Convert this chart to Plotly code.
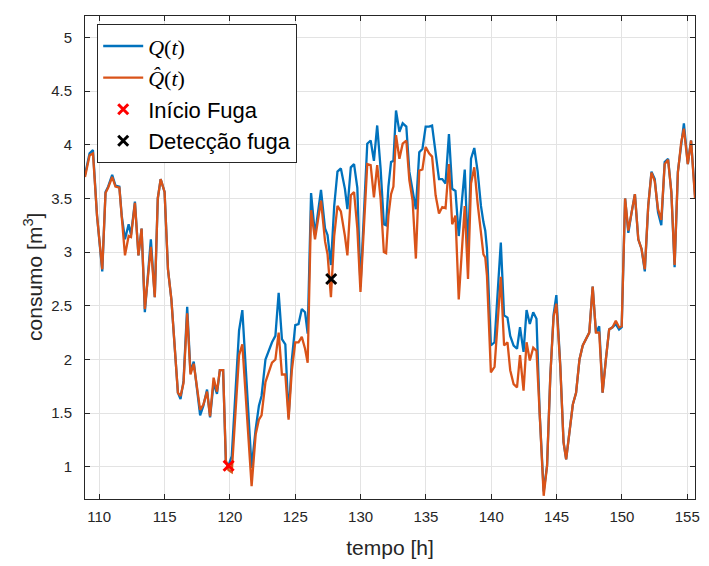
import plotly.graph_objects as go

# Time [h]
tempo = [
    108.91, 109.26, 109.52, 109.83, 110.23, 110.48, 110.68, 110.99, 111.24, 111.54,
    111.72, 111.97, 112.25, 112.43, 112.73, 113.00, 113.24, 113.49, 113.95, 114.25,
    114.48, 114.70, 115.00, 115.26, 115.52, 116.02, 116.22, 116.45, 116.73, 116.98,
    117.23, 117.41, 117.72, 117.97, 118.25, 118.48, 118.75, 119.01, 119.23, 119.48,
    119.69, 119.89, 120.14, 120.70, 120.95, 121.66, 121.97, 122.22, 122.42, 122.72,
    122.97, 123.22, 123.48, 123.73, 123.98, 124.24, 124.49, 124.74, 125.00, 125.25,
    125.50, 125.75, 125.95, 126.21, 126.51, 126.74, 126.97, 127.28, 127.47, 127.73,
    127.98, 128.23, 128.49, 128.80, 128.99, 129.25, 129.50, 129.75, 129.99, 130.51,
    130.77, 131.02, 131.27, 131.53, 131.78, 131.95, 132.13, 132.33, 132.51, 132.71,
    132.97, 133.22, 133.50, 133.73, 133.98, 134.23, 134.49, 134.73, 134.98, 135.24,
    135.47, 135.74, 136.00, 136.25, 136.50, 136.76, 137.01, 137.26, 137.51, 137.97,
    138.22, 138.45, 138.70, 138.96, 139.21, 139.40, 139.54, 139.67, 139.97, 140.25,
    140.73, 140.98, 141.24, 141.45, 141.71, 141.97, 142.20, 142.47, 142.70, 142.95,
    143.21, 143.46, 143.71, 144.01, 144.27, 144.52, 144.77, 144.98, 145.28, 145.53,
    145.73, 145.98, 146.24, 146.49, 146.75, 147.00, 147.25, 147.50, 147.76, 148.01,
    148.26, 148.52, 148.77, 149.02, 149.28, 149.53, 149.78, 149.98, 150.24, 150.49,
    150.74, 150.99, 151.25, 151.50, 151.75, 152.01, 152.26, 152.51, 152.76, 153.01,
    153.27, 153.53, 153.78, 154.03, 154.28, 154.53, 154.74, 155.04, 155.29, 155.59,
]

# Measured consumption Q(t) [m^3]
consumo_q = [
    3.72, 3.92, 3.95, 3.34, 2.82, 3.56, 3.61, 3.72, 3.62, 3.61,
    3.34, 3.12, 3.26, 3.16, 3.47, 2.97, 3.22, 2.44, 3.12, 2.58,
    3.50, 3.68, 3.56, 2.84, 2.56, 1.69, 1.63, 1.80, 2.49, 1.88,
    1.98, 1.79, 1.48, 1.57, 1.72, 1.46, 1.78, 1.68, 1.90, 1.90,
    1.04, 1.01, 1.10, 2.27, 2.46, 0.99, 1.35, 1.57, 1.66, 2.00,
    2.08, 2.16, 2.22, 2.62, 2.19, 2.14, 1.46, 2.00, 2.32, 2.33,
    2.47, 2.44, 2.24, 3.55, 3.16, 3.40, 3.58, 3.22, 3.16, 2.88,
    3.43, 3.75, 3.78, 3.59, 3.40, 3.79, 3.82, 3.60, 2.68, 4.01,
    4.04, 3.85, 4.18, 3.78, 3.26, 3.25, 3.61, 3.84, 3.85, 4.32,
    4.12, 4.20, 4.17, 3.75, 3.59, 3.40, 3.93, 3.96, 4.17, 4.17,
    4.18, 3.90, 3.68, 3.68, 3.64, 4.10, 3.59, 3.57, 3.15, 3.77,
    3.00, 3.87, 3.97, 3.75, 3.43, 3.28, 3.20, 3.03, 2.13, 2.16,
    3.09, 2.41, 2.39, 2.22, 2.13, 2.10, 2.30, 2.07, 2.46, 2.33,
    2.44, 2.38, 1.48, 0.77, 1.01, 1.85, 2.42, 2.60, 1.94, 1.23,
    1.07, 1.32, 1.58, 1.69, 2.00, 2.13, 2.19, 2.25, 2.68, 2.25,
    2.31, 1.69, 2.00, 2.28, 2.30, 2.33, 2.28, 2.30, 3.50, 3.18,
    3.37, 3.54, 3.12, 3.03, 2.82, 3.43, 3.75, 3.68, 3.37, 3.25,
    3.84, 3.87, 3.56, 2.86, 3.75, 4.03, 4.20, 3.82, 4.04, 3.53,
]

# Estimated consumption Q^(t) [m^3]
consumo_qhat = [
    3.70, 3.90, 3.92, 3.34, 2.84, 3.55, 3.60, 3.70, 3.61, 3.60,
    3.33, 2.97, 3.15, 3.14, 3.46, 2.97, 3.22, 2.47, 3.05, 2.58,
    3.50, 3.68, 3.56, 2.84, 2.56, 1.69, 1.66, 1.78, 2.43, 1.86,
    1.96, 1.79, 1.53, 1.58, 1.70, 1.47, 1.83, 1.70, 1.90, 1.90,
    1.06, 0.97, 0.95, 2.04, 2.14, 0.82, 1.30, 1.44, 1.48, 1.79,
    1.88, 1.97, 2.00, 2.25, 1.86, 1.86, 1.44, 1.90, 2.16, 2.16,
    2.21, 2.10, 1.97, 3.39, 3.12, 3.30, 3.48, 3.10, 2.98, 2.58,
    3.15, 3.43, 3.38, 3.15, 2.97, 3.53, 3.56, 3.22, 2.63, 3.82,
    3.81, 3.51, 3.81, 3.50, 3.00, 2.99, 3.34, 3.54, 3.61, 4.09,
    3.87, 4.01, 4.04, 3.67, 3.48, 2.94, 3.76, 3.77, 3.98, 3.92,
    3.89, 3.53, 3.36, 3.42, 3.41, 3.82, 3.26, 3.34, 2.56, 3.43,
    2.75, 3.64, 3.79, 3.45, 3.15, 2.98, 2.95, 2.78, 1.88, 1.93,
    2.77, 2.13, 2.16, 1.90, 1.77, 1.74, 2.04, 1.71, 2.16, 1.99,
    2.11, 2.08, 1.48, 0.73, 1.01, 1.85, 2.40, 2.52, 1.94, 1.23,
    1.07, 1.32, 1.58, 1.69, 2.00, 2.13, 2.19, 2.25, 2.68, 2.25,
    2.25, 1.69, 2.00, 2.28, 2.30, 2.36, 2.30, 2.31, 3.50, 3.20,
    3.37, 3.54, 3.12, 3.03, 2.84, 3.43, 3.74, 3.66, 3.40, 3.30,
    3.82, 3.86, 3.56, 2.88, 3.74, 4.02, 4.15, 3.82, 4.04, 3.50,
]

# Leak start and leak detection events
inicio_fuga_t, inicio_fuga_q = [119.9], [1.01]
deteccao_t, deteccao_q = [127.75], [2.75]

x_ticks = [110, 115, 120, 125, 130, 135, 140, 145, 150, 155]
y_ticks = [1, 1.5, 2, 2.5, 3, 3.5, 4, 4.5, 5]

AXIS_COLOR = "#262626"
GRID_COLOR = "#e3e3e3"
FONT = "Liberation Sans, Arial, sans-serif"
SERIF = "font-family:'Liberation Serif','DejaVu Serif',serif;font-size:22px"

fig = go.Figure()
fig.add_trace(go.Scatter(
    x=tempo, y=consumo_q, mode="lines",
    line=dict(color="#0072BD", width=2.3),
    name=f"<span style=\"{SERIF}\"><i>Q</i>(<i>t</i>)</span>",
))
fig.add_trace(go.Scatter(
    x=tempo, y=consumo_qhat, mode="lines",
    line=dict(color="#D95319", width=2.3),
    name=f"<span style=\"{SERIF}\"><i>Q\u0302</i>(<i>t</i>)</span>",
))
fig.add_trace(go.Scatter(
    x=inicio_fuga_t, y=inicio_fuga_q, mode="markers",
    marker=dict(symbol="x-thin", size=10, line=dict(color="#FF0000", width=3)),
    name="Início Fuga",
))
fig.add_trace(go.Scatter(
    x=deteccao_t, y=deteccao_q, mode="markers",
    marker=dict(symbol="x-thin", size=10, line=dict(color="#000000", width=3)),
    name="Detecção fuga",
))

axis_common = dict(
    showline=True, linecolor=AXIS_COLOR, linewidth=1, mirror="ticks",
    ticks="inside", ticklen=5, tickcolor=AXIS_COLOR,
    showgrid=True, gridcolor=GRID_COLOR, gridwidth=1, zeroline=False,
    tickfont=dict(family=FONT, size=15, color=AXIS_COLOR),
)

fig.update_layout(
    width=709, height=566,
    margin=dict(l=85, r=9, t=16, b=67),
    paper_bgcolor="white", plot_bgcolor="white",
    font=dict(family=FONT, color=AXIS_COLOR),
    xaxis=dict(
        range=[108.91, 155.59], tickvals=x_ticks, ticklabelstandoff=4,
        title=dict(text="tempo [h]", font=dict(family=FONT, size=21, color=AXIS_COLOR), standoff=16),
        **axis_common,
    ),
    yaxis=dict(
        range=[0.7, 5.2], tickvals=y_ticks, ticklabelstandoff=9,
        **axis_common,
    ),
    legend=dict(
        x=0.02, y=0.983, xanchor="left", yanchor="top",
        bgcolor="white", bordercolor=AXIS_COLOR, borderwidth=1,
        font=dict(family=FONT, size=22, color="#000000"),
        itemwidth=40, tracegroupgap=0,
    ),
    annotations=[dict(
        text="consumo [m<sup>3</sup>]", textangle=-90,
        xref="paper", yref="paper", x=-0.085, y=0.46,
        xanchor="center", yanchor="middle", showarrow=False,
        font=dict(family=FONT, size=21, color=AXIS_COLOR),
    )],
    showlegend=True,
)

fig.write_html("out.html")
